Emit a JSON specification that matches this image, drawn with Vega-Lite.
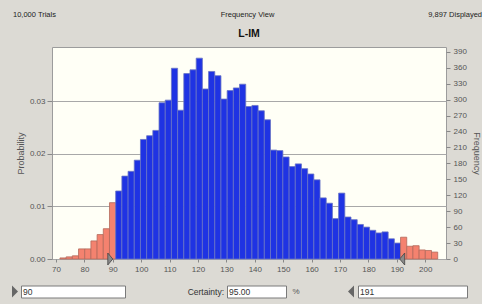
{
  "$schema": "https://vega.github.io/schema/vega-lite/v6.json",
  "background": "#dcdad4",
  "padding": {"left": 12, "top": 10, "right": 0, "bottom": 6},
  "config": {
    "view": {"stroke": null},
    "font": "Liberation Sans",
    "axis": {"labelFont": "Liberation Sans", "titleFont": "Liberation Sans"},
    "title": {"font": "Liberation Sans"}
  },
  "spacing": 8,
  "vconcat": [
    {
      "width": 469,
      "height": 10,
      "data": {"values": [
        {"slot": "left", "label": "10,000 Trials"},
        {"slot": "middle", "label": "Frequency View"},
        {"slot": "right", "label": "9,897 Displayed"}
      ]},
      "layer": [
        {
          "transform": [{"filter": "datum.slot === 'left'"}],
          "mark": {"type": "text", "align": "left", "fontSize": 7.5, "color": "#222"},
          "encoding": {
            "x": {"field": "slot", "type": "nominal", "scale": {"type": "point", "domain": ["left", "middle", "right"], "padding": 0}, "axis": null},
            "text": {"field": "label"}
          }
        },
        {
          "transform": [{"filter": "datum.slot === 'middle'"}],
          "mark": {"type": "text", "align": "center", "fontSize": 7.5, "color": "#222"},
          "encoding": {
            "x": {"field": "slot", "type": "nominal", "scale": {"type": "point", "domain": ["left", "middle", "right"], "padding": 0}, "axis": null},
            "text": {"field": "label"}
          }
        },
        {
          "transform": [{"filter": "datum.slot === 'right'"}],
          "mark": {"type": "text", "align": "right", "fontSize": 7.5, "color": "#222"},
          "encoding": {
            "x": {"field": "slot", "type": "nominal", "scale": {"type": "point", "domain": ["left", "middle", "right"], "padding": 0}, "axis": null},
            "text": {"field": "label"}
          }
        }
      ]
    },
    {
      "spacing": 10.5,
      "vconcat": [
        {
          "spacing": 1,
          "hconcat": [
            {"width": 1, "height": 1, "data": {"values": [{}]}, "mark": {"type": "text", "text": ""}, "encoding": {}},
            {
              "width": 394,
              "height": 212,
              "title": {"text": "L-IM", "fontSize": 10.5, "fontWeight": "bold", "color": "#111", "offset": 8},
              "view": {"fill": "#fffff6", "stroke": "#9c9c9c"},
              "resolve": {"scale": {"y": "independent"}},
              "layer": [
                {
                  "data": {"values": [{"p": 0}]},
                  "mark": {"type": "rule", "opacity": 0},
                  "encoding": {
                    "y": {
                      "field": "p", "type": "quantitative",
                      "scale": {"domain": [0, 0.04032], "nice": false, "zero": true},
                      "axis": {
                        "orient": "left", "title": "Probability", "values": [0, 0.01, 0.02, 0.03], "format": ".2f",
                        "grid": true, "gridColor": "#a8a8a8", "gridWidth": 1, "domain": false,
                        "tickColor": "#888", "tickSize": 5, "labelPadding": 2,
                        "labelFontSize": 8, "labelColor": "#555",
                        "titleFontSize": 9, "titleFontWeight": "normal", "titleColor": "#555", "titlePadding": 4
                      }
                    }
                  }
                },
                {
                  "data": {"values": [
                    {"start": 71.40, "end": 73.58, "freq": 2, "region": "tail"},
                    {"start": 73.58, "end": 75.76, "freq": 4, "region": "tail"},
                    {"start": 75.76, "end": 77.94, "freq": 6, "region": "tail"},
                    {"start": 77.94, "end": 80.12, "freq": 19, "region": "tail"},
                    {"start": 80.12, "end": 82.30, "freq": 19, "region": "tail"},
                    {"start": 82.30, "end": 84.48, "freq": 34, "region": "tail"},
                    {"start": 84.48, "end": 86.66, "freq": 46, "region": "tail"},
                    {"start": 86.66, "end": 88.84, "freq": 57, "region": "tail"},
                    {"start": 88.84, "end": 91.02, "freq": 106, "region": "tail"},
                    {"start": 91.02, "end": 93.20, "freq": 128, "region": "certain"},
                    {"start": 93.20, "end": 95.38, "freq": 156, "region": "certain"},
                    {"start": 95.38, "end": 97.56, "freq": 165, "region": "certain"},
                    {"start": 97.56, "end": 99.74, "freq": 186, "region": "certain"},
                    {"start": 99.74, "end": 101.92, "freq": 225, "region": "certain"},
                    {"start": 101.92, "end": 104.10, "freq": 232, "region": "certain"},
                    {"start": 104.10, "end": 106.28, "freq": 242, "region": "certain"},
                    {"start": 106.28, "end": 108.46, "freq": 294, "region": "certain"},
                    {"start": 108.46, "end": 110.64, "freq": 299, "region": "certain"},
                    {"start": 110.64, "end": 112.82, "freq": 359, "region": "certain"},
                    {"start": 112.82, "end": 115.00, "freq": 280, "region": "certain"},
                    {"start": 115.00, "end": 117.18, "freq": 349, "region": "certain"},
                    {"start": 117.18, "end": 119.36, "freq": 356, "region": "certain"},
                    {"start": 119.36, "end": 121.54, "freq": 378, "region": "certain"},
                    {"start": 121.54, "end": 123.72, "freq": 320, "region": "certain"},
                    {"start": 123.72, "end": 125.90, "freq": 353, "region": "certain"},
                    {"start": 125.90, "end": 128.08, "freq": 345, "region": "certain"},
                    {"start": 128.08, "end": 130.26, "freq": 301, "region": "certain"},
                    {"start": 130.26, "end": 132.44, "freq": 317, "region": "certain"},
                    {"start": 132.44, "end": 134.62, "freq": 322, "region": "certain"},
                    {"start": 134.62, "end": 136.80, "freq": 329, "region": "certain"},
                    {"start": 136.80, "end": 138.98, "freq": 287, "region": "certain"},
                    {"start": 138.98, "end": 141.16, "freq": 289, "region": "certain"},
                    {"start": 141.16, "end": 143.34, "freq": 279, "region": "certain"},
                    {"start": 143.34, "end": 145.52, "freq": 262, "region": "certain"},
                    {"start": 145.52, "end": 147.70, "freq": 205, "region": "certain"},
                    {"start": 147.70, "end": 149.88, "freq": 204, "region": "certain"},
                    {"start": 149.88, "end": 152.06, "freq": 192, "region": "certain"},
                    {"start": 152.06, "end": 154.24, "freq": 174, "region": "certain"},
                    {"start": 154.24, "end": 156.42, "freq": 179, "region": "certain"},
                    {"start": 156.42, "end": 158.60, "freq": 170, "region": "certain"},
                    {"start": 158.60, "end": 160.78, "freq": 160, "region": "certain"},
                    {"start": 160.78, "end": 162.96, "freq": 149, "region": "certain"},
                    {"start": 162.96, "end": 165.14, "freq": 115, "region": "certain"},
                    {"start": 165.14, "end": 167.32, "freq": 105, "region": "certain"},
                    {"start": 167.32, "end": 169.50, "freq": 76, "region": "certain"},
                    {"start": 169.50, "end": 171.68, "freq": 124, "region": "certain"},
                    {"start": 171.68, "end": 173.86, "freq": 79, "region": "certain"},
                    {"start": 173.86, "end": 176.04, "freq": 74, "region": "certain"},
                    {"start": 176.04, "end": 178.22, "freq": 65, "region": "certain"},
                    {"start": 178.22, "end": 180.40, "freq": 60, "region": "certain"},
                    {"start": 180.40, "end": 182.58, "freq": 54, "region": "certain"},
                    {"start": 182.58, "end": 184.76, "freq": 49, "region": "certain"},
                    {"start": 184.76, "end": 186.94, "freq": 51, "region": "certain"},
                    {"start": 186.94, "end": 189.12, "freq": 38, "region": "certain"},
                    {"start": 189.12, "end": 191.30, "freq": 30, "region": "certain"},
                    {"start": 191.30, "end": 193.48, "freq": 41, "region": "tail"},
                    {"start": 193.48, "end": 195.66, "freq": 24, "region": "tail"},
                    {"start": 195.66, "end": 197.84, "freq": 25, "region": "tail"},
                    {"start": 197.84, "end": 200.02, "freq": 17, "region": "tail"},
                    {"start": 200.02, "end": 202.20, "freq": 16, "region": "tail"},
                    {"start": 202.20, "end": 204.38, "freq": 13, "region": "tail"}
                  ]},
                  "mark": {"type": "rect", "strokeWidth": 0.8},
                  "encoding": {
                    "x": {
                      "field": "start", "type": "quantitative",
                      "scale": {"domain": [68.6, 207.3], "nice": false, "zero": false},
                      "axis": {
                        "title": null, "values": [70, 80, 90, 100, 110, 120, 130, 140, 150, 160, 170, 180, 190, 200],
                        "grid": false, "domain": false, "tickColor": "#888", "tickSize": 3, "labelPadding": 3.5,
                        "labelFontSize": 8, "labelColor": "#555"
                      }
                    },
                    "x2": {"field": "end"},
                    "y": {
                      "field": "freq", "type": "quantitative",
                      "scale": {"domain": [0, 399], "nice": false},
                      "axis": {
                        "orient": "right", "title": "Frequency",
                        "values": [0, 30, 60, 90, 120, 150, 180, 210, 240, 270, 300, 330, 360, 390],
                        "grid": false, "domain": false, "tickColor": "#888", "tickSize": 4, "labelPadding": 3,
                        "labelFontSize": 8, "labelColor": "#555",
                        "titleFontSize": 9, "titleFontWeight": "normal", "titleColor": "#555", "titlePadding": 5
                      }
                    },
                    "y2": {"datum": 0},
                    "fill": {"field": "region", "type": "nominal", "scale": {"domain": ["tail", "certain"], "range": ["#f4826f", "#1f33e3"]}, "legend": null},
                    "stroke": {"field": "region", "type": "nominal", "scale": {"domain": ["tail", "certain"], "range": ["#b26a5c", "#6874c4"]}, "legend": null}
                  }
                },
                {
                  "data": {"values": [
                    {"bound": 90, "side": "lower"},
                    {"bound": 191, "side": "upper"}
                  ]},
                  "mark": {"type": "point", "filled": true, "size": 100, "fill": "#8a8a8a", "stroke": "#444", "strokeWidth": 0.8, "opacity": 1},
                  "encoding": {
                    "x": {
                      "field": "bound", "type": "quantitative",
                      "scale": {"domain": [68.6, 207.3], "nice": false, "zero": false},
                      "axis": {
                        "title": null, "values": [70, 80, 90, 100, 110, 120, 130, 140, 150, 160, 170, 180, 190, 200],
                        "grid": false, "domain": false, "tickColor": "#888", "tickSize": 3, "labelPadding": 3.5,
                        "labelFontSize": 8, "labelColor": "#555"
                      }
                    },
                    "y": {"datum": 0, "type": "quantitative", "scale": {"domain": [0, 1]}, "axis": null},
                    "shape": {"field": "side", "type": "nominal", "scale": {"domain": ["lower", "upper"], "range": ["M-1,-1.2L0,0L-1,1.2Z", "M1,-1.2L0,0L1,1.2Z"]}, "legend": null}
                  }
                }
              ]
            }
          ]
        },
        {
          "spacing": 0,
          "bounds": "flush",
          "hconcat": [
            {"width": 4, "height": 12, "data": {"values": [{}]}, "mark": {"type": "point", "shape": "M-0.5,-1L0.5,0L-0.5,1Z", "size": 144, "filled": true, "color": "#666", "opacity": 1}, "encoding": {}},
            {"width": 4, "height": 12, "data": {"values": [{}]}, "mark": {"type": "text", "text": ""}, "encoding": {}},
            {
              "width": 104, "height": 12,
              "view": {"fill": "#ffffff", "stroke": "#7a7a7a"},
              "data": {"values": [{"v": "90"}]},
              "mark": {"type": "text", "align": "left", "dx": 2, "fontSize": 8.5, "color": "#333"},
              "encoding": {"x": {"datum": 0, "type": "quantitative", "scale": {"domain": [0, 1]}, "axis": null}, "text": {"field": "v"}}
            },
            {"width": 64, "height": 12, "data": {"values": [{}]}, "mark": {"type": "text", "text": ""}, "encoding": {}},
            {
              "width": 38, "height": 12,
              "data": {"values": [{"v": "Certainty:"}]},
              "mark": {"type": "text", "align": "right", "dx": -3, "fontSize": 8.5, "color": "#333"},
              "encoding": {"x": {"datum": 1, "type": "quantitative", "scale": {"domain": [0, 1]}, "axis": null}, "text": {"field": "v"}}
            },
            {
              "width": 59, "height": 12,
              "view": {"fill": "#ffffff", "stroke": "#7a7a7a"},
              "data": {"values": [{"v": "95.00"}]},
              "mark": {"type": "text", "align": "left", "dx": 2, "fontSize": 8.5, "color": "#333"},
              "encoding": {"x": {"datum": 0, "type": "quantitative", "scale": {"domain": [0, 1]}, "axis": null}, "text": {"field": "v"}}
            },
            {"width": 5, "height": 12, "data": {"values": [{}]}, "mark": {"type": "text", "text": ""}, "encoding": {}},
            {"width": 10, "height": 12, "data": {"values": [{"v": "%"}]}, "mark": {"type": "text", "fontSize": 8, "color": "#555"}, "encoding": {"text": {"field": "v"}}},
            {"width": 46, "height": 12, "data": {"values": [{}]}, "mark": {"type": "text", "text": ""}, "encoding": {}},
            {"width": 8, "height": 12, "data": {"values": [{}]}, "mark": {"type": "point", "shape": "M0.5,-1L-0.5,0L0.5,1Z", "size": 144, "filled": true, "color": "#666", "opacity": 1}, "encoding": {}},
            {"width": 3, "height": 12, "data": {"values": [{}]}, "mark": {"type": "text", "text": ""}, "encoding": {}},
            {
              "width": 109, "height": 12,
              "view": {"fill": "#ffffff", "stroke": "#7a7a7a"},
              "data": {"values": [{"v": "191"}]},
              "mark": {"type": "text", "align": "left", "dx": 2, "fontSize": 8.5, "color": "#333"},
              "encoding": {"x": {"datum": 0, "type": "quantitative", "scale": {"domain": [0, 1]}, "axis": null}, "text": {"field": "v"}}
            }
          ]
        }
      ]
    }
  ]
}
